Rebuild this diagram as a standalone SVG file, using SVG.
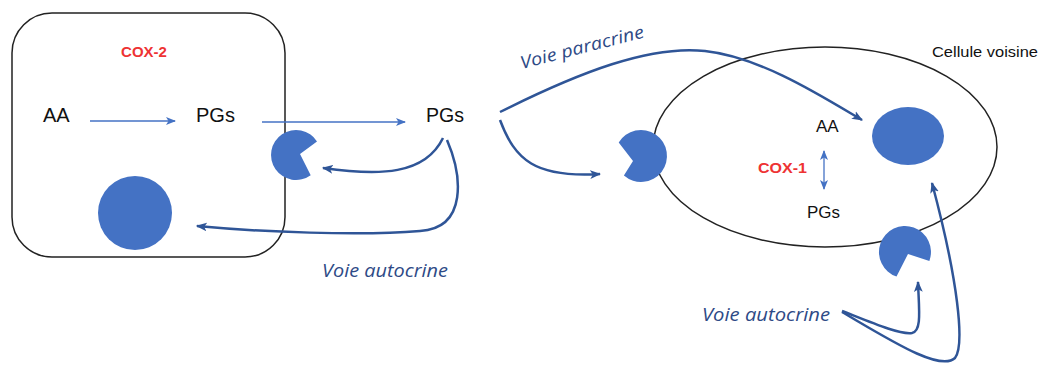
<svg xmlns="http://www.w3.org/2000/svg" width="1043" height="368" viewBox="0 0 1043 368">
<defs>
<style>
.cell{fill:none;stroke:#222;stroke-width:1.5}
.shape{fill:#4472C4}
.lbl{font-family:"Liberation Sans",Arial,sans-serif;fill:#111}
.cox{font-family:"Liberation Sans",Arial,sans-serif;font-weight:bold;fill:#EE3333;font-size:15px}
.voie{font-family:"Open Sans","Liberation Sans",sans-serif;font-style:italic;fill:#2E4A86;font-size:17.5px}
.thin{fill:none;stroke:#4472C4;stroke-width:1.3}
.thick{fill:none;stroke:#2F5597;stroke-width:2.5}
</style>
<marker id="ah" viewBox="0 0 10 8" refX="9" refY="4" markerWidth="10" markerHeight="8" markerUnits="userSpaceOnUse" orient="auto-start-reverse">
<path d="M0,0 L10,4 L0,8 L2.5,4 Z" fill="#4472C4"/>
</marker>
<marker id="ahd" viewBox="0 0 10 8" refX="9" refY="4" markerWidth="11" markerHeight="9" markerUnits="userSpaceOnUse" orient="auto">
<path d="M0,0 L10,4 L0,8 L2.5,4 Z" fill="#2F5597"/>
</marker>
</defs>
<rect width="1043" height="368" fill="#fff"/>

<g id="cell-left">
<rect class="cell" x="12" y="13" width="273" height="244" rx="40" ry="40"/>
<text class="cox" x="144" y="57" text-anchor="middle">COX-2</text>
<text class="lbl" x="43" y="122" font-size="20">AA</text>
<text class="lbl" x="196" y="122" font-size="20" textLength="39" lengthAdjust="spacingAndGlyphs">PGs</text>
<ellipse class="shape" cx="135" cy="213" rx="37" ry="37"/>
</g>

<g id="receptor-left">
<path class="shape" d="M300,154 L310.7,175.2 A25,25 0 1 1 317,141.4 Z"/>
</g>

<g id="pgs-out">
<text class="lbl" x="426" y="122" font-size="20" textLength="38" lengthAdjust="spacingAndGlyphs">PGs</text>
</g>

<g id="cell-voisine">
<ellipse class="cell" cx="825" cy="147" rx="172" ry="100"/>
<text class="lbl" x="932" y="57" font-size="14" textLength="106" lengthAdjust="spacingAndGlyphs">Cellule voisine</text>
<text class="lbl" x="816" y="132" font-size="17">AA</text>
<text class="cox" x="758" y="173" textLength="49" lengthAdjust="spacingAndGlyphs">COX-1</text>
<text class="lbl" x="807" y="218" font-size="17" textLength="33" lengthAdjust="spacingAndGlyphs">PGs</text>
<ellipse class="shape" cx="908" cy="136" rx="36" ry="29"/>
</g>

<g id="receptor-right">
<path class="shape" d="M633,161 L618.7,142.6 A26,26 0 1 1 623.9,175.6 Z"/>
</g>

<g id="receptor-bottom">
<path class="shape" d="M908,254 L896.5,276.6 A26,26 0 1 1 929.4,260.9 Z"/>
</g>

<g id="labels">
<text class="voie" x="322" y="277" textLength="126" lengthAdjust="spacingAndGlyphs">Voie autocrine</text>
<text class="voie" x="702" y="321" textLength="128" lengthAdjust="spacingAndGlyphs">Voie autocrine</text>
<text class="voie" x="522" y="69" textLength="127" lengthAdjust="spacingAndGlyphs" transform="rotate(-14.5 522 69)">Voie paracrine</text>
</g>

<g id="connectors">
<path class="thin" d="M90,121 L175,121" marker-end="url(#ah)"/>
<path class="thin" d="M262,122 L405,122" marker-end="url(#ah)"/>
<path class="thin" d="M824,151 L824,189" marker-start="url(#ah)" marker-end="url(#ah)"/>
<path class="thick" d="M443,138 C 425,175 380,176 323,168" marker-end="url(#ahd)"/>
<path class="thick" d="M447,140 C 462,175 468,228 420,231 C 360,236 260,232 197,226" marker-end="url(#ahd)"/>
<path class="thick" d="M500,112 C 580,72 650,45 705,51 C 760,57 820,95 862,120" marker-end="url(#ahd)"/>
<path class="thick" d="M500,120 C 515,160 535,178 600,174" marker-end="url(#ahd)"/>
<path class="thick" d="M842,311 C 870,322 900,335 912,333 C 922,331 919,310 918,282" marker-end="url(#ahd)"/>
<path class="thick" d="M842,312 C 890,340 940,372 955,358 C 965,345 958,280 932,183" marker-end="url(#ahd)"/>
</g>
</svg>
